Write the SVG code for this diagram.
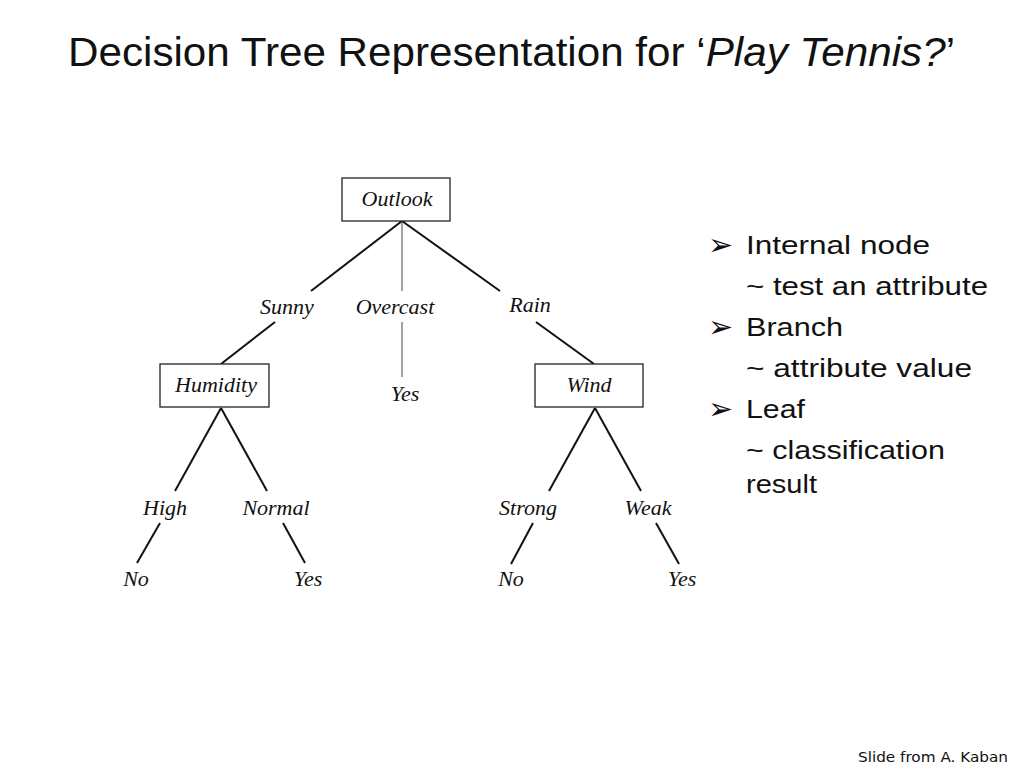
<svg xmlns="http://www.w3.org/2000/svg" width="1024" height="768" viewBox="0 0 1024 768">
  <style>
    .title { font-family: "Liberation Sans", "DejaVu Sans", sans-serif; font-size: 40px; fill: #111; }
    .lbl { font-family: "Liberation Serif", "DejaVu Serif", serif; font-style: italic; font-size: 22px; fill: #111; text-anchor: middle; }
    .box { fill: #fff; stroke: #222; stroke-width: 1.3; }
    .edge { stroke: #111; stroke-width: 2; fill: none; }
    .thin { stroke: #555; stroke-width: 1.1; fill: none; }
    .bul { font-family: "Liberation Sans", "DejaVu Sans", sans-serif; font-size: 26px; fill: #111; }
    .arr { font-family: "DejaVu Sans", sans-serif; font-size: 30px; fill: #111; }
    .foot { font-family: "DejaVu Sans", "Liberation Sans", sans-serif; font-size: 14px; fill: #111; }
  </style>
  <rect width="1024" height="768" fill="#fff"/>
  <text class="title" x="68" y="66" textLength="887" lengthAdjust="spacingAndGlyphs">Decision Tree Representation for ‘<tspan font-style="italic">Play Tennis?</tspan>’</text>

  <g id="connectors">
    <line class="edge" x1="402" y1="221" x2="311" y2="291"/>
    <line class="thin" x1="402" y1="221" x2="402" y2="291"/>
    <line class="edge" x1="402" y1="221" x2="500" y2="291"/>
    <line class="edge" x1="275" y1="322" x2="221" y2="364"/>
    <line class="thin" x1="402" y1="322" x2="402" y2="377"/>
    <line class="edge" x1="536" y1="322" x2="594" y2="364"/>
    <line class="edge" x1="221" y1="408" x2="175" y2="491"/>
    <line class="edge" x1="221" y1="408" x2="267" y2="491"/>
    <line class="edge" x1="160" y1="523" x2="137" y2="563"/>
    <line class="edge" x1="283" y1="523" x2="305" y2="563"/>
    <line class="edge" x1="595" y1="408" x2="549" y2="491"/>
    <line class="edge" x1="595" y1="408" x2="641" y2="491"/>
    <line class="edge" x1="533" y1="523" x2="511" y2="564"/>
    <line class="edge" x1="656" y1="523" x2="679" y2="564"/>
  </g>

  <g id="node-outlook">
    <rect class="box" x="342" y="178" width="108" height="43"/>
    <text class="lbl" x="397" y="206">Outlook</text>
  </g>
  <g id="label-sunny"><text class="lbl" x="287" y="314">Sunny</text></g>
  <g id="label-overcast"><text class="lbl" x="395" y="314">Overcast</text></g>
  <g id="label-rain"><text class="lbl" x="530" y="312">Rain</text></g>
  <g id="leaf-overcast-yes"><text class="lbl" x="405" y="401">Yes</text></g>

  <g id="node-humidity">
    <rect class="box" x="160" y="364" width="109" height="43"/>
    <text class="lbl" x="216" y="392">Humidity</text>
  </g>
  <g id="node-wind">
    <rect class="box" x="535" y="364" width="108" height="43"/>
    <text class="lbl" x="589" y="392">Wind</text>
  </g>

  <g id="label-high"><text class="lbl" x="165" y="515">High</text></g>
  <g id="label-normal"><text class="lbl" x="276" y="515">Normal</text></g>
  <g id="label-strong"><text class="lbl" x="528" y="515">Strong</text></g>
  <g id="label-weak"><text class="lbl" x="648" y="515">Weak</text></g>

  <g id="leaf-high-no"><text class="lbl" x="136" y="586">No</text></g>
  <g id="leaf-normal-yes"><text class="lbl" x="308" y="586">Yes</text></g>
  <g id="leaf-strong-no"><text class="lbl" x="511" y="586">No</text></g>
  <g id="leaf-weak-yes"><text class="lbl" x="682" y="586">Yes</text></g>

  <g id="legend">
    <text class="arr" x="708" y="255">➢</text>
    <text class="bul" x="746" y="254" textLength="184" lengthAdjust="spacingAndGlyphs">Internal node</text>
    <text class="bul" x="746" y="295" textLength="242" lengthAdjust="spacingAndGlyphs">~ test an attribute</text>
    <text class="arr" x="708" y="337">➢</text>
    <text class="bul" x="746" y="336" textLength="97" lengthAdjust="spacingAndGlyphs">Branch</text>
    <text class="bul" x="746" y="377" textLength="226" lengthAdjust="spacingAndGlyphs">~ attribute value</text>
    <text class="arr" x="708" y="419">➢</text>
    <text class="bul" x="746" y="418" textLength="59" lengthAdjust="spacingAndGlyphs">Leaf</text>
    <text class="bul" x="746" y="459" textLength="199" lengthAdjust="spacingAndGlyphs">~ classification</text>
    <text class="bul" x="746" y="493" textLength="71" lengthAdjust="spacingAndGlyphs">result</text>
  </g>

  <text class="foot" x="858" y="762" textLength="150" lengthAdjust="spacingAndGlyphs">Slide from A. Kaban</text>
</svg>
